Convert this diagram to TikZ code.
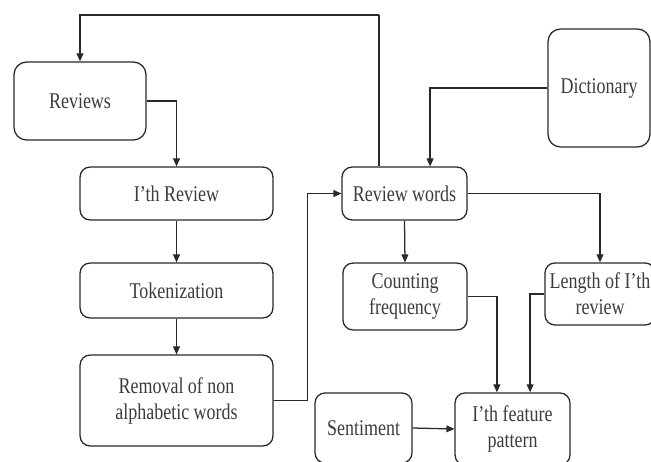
\documentclass[tikz,border=0pt]{standalone}
\usepackage{fontspec}
\setmainfont{Liberation Serif}[FakeStretch=0.8]
\usetikzlibrary{arrows.meta, positioning, calc}
\definecolor{boxline}{RGB}{40, 40, 40}
\definecolor{boxtext}{RGB}{60, 60, 60}
\tikzset{
  >=Triangle,
  flowarrow/.style={-{Triangle[length=2mm, width=1.7mm]}, line width=0.9pt, boxline},
  flowline/.style={line width=0.9pt, boxline},
  procbox/.style={draw=boxline, line width=0.9pt, rounded corners=7pt, align=center, text=boxtext, inner sep=2pt}
}
\begin{document}
\begin{tikzpicture}[x=0.025cm, y=-0.025cm, font=\fontsize{16}{18.5}\selectfont]
    \useasboundingbox (0,0) rectangle (651,461);
    % left column
    \node[procbox, rounded corners=9pt, minimum width=3.3cm, minimum height=1.95cm] (reviews) at (80,101) {Reviews};
    \node[procbox, minimum width=4.82cm, minimum height=1.32cm] (ith) at (176.5,193.5) {I'th Review};
    \node[procbox, minimum width=4.82cm, minimum height=1.37cm] (token) at (176.5,290.5) {Tokenization};
    \node[procbox, minimum width=4.82cm, minimum height=2.27cm] (removal) at (176.5,400.5) {Removal of non\\alphabetic words};
    % right part
    \node[procbox, minimum width=3.12cm, minimum height=1.32cm] (words) at (404.5,193.5) {Review words};
    \node[procbox, rounded corners=9pt, minimum width=2.55cm, minimum height=2.95cm] (dict) at (599,88) {Dictionary};
    \node[procbox, minimum width=3.1cm, minimum height=1.67cm] (count) at (405,296.5) {Counting\\frequency};
    \node[procbox, minimum width=2.75cm, minimum height=1.55cm, inner sep=0pt] (length) at (600,294) {Length of I'th\\review};
    \node[procbox, minimum width=2.87cm, minimum height=1.8cm] (feature) at (512.5,429) {I'th feature\\pattern};
    \node[procbox, minimum width=2.42cm, minimum height=1.75cm] (sentiment) at (363.5,428) {Sentiment};
    \coordinate (loop) at (379,15);
    % connectors
    \draw[flowarrow] ([xshift=-0.64cm]words.north) |- (loop) -| (reviews.north);
    \draw[flowarrow] (reviews.east) -| (ith.north);
    \draw[flowarrow] (ith.south) -- (token.north);
    \draw[flowarrow] (token.south) -- (removal.north);
    \draw[flowarrow] (removal.east) -- ++(34,0) |- (words.west);
    \draw[flowarrow] (dict.west) -| ([xshift=0.64cm]words.north);
    \draw[flowarrow] (words.east) -| (length.north);
    \draw[flowarrow] (words.south) -- (count.north);
    \draw[flowarrow] (count.east) -| ([xshift=-0.39cm]feature.north);
    \draw[flowarrow] (length.west) -| ([xshift=0.44cm]feature.north);
    \draw[flowarrow] (sentiment.east) -- (feature.west);
\end{tikzpicture}
\end{document}
